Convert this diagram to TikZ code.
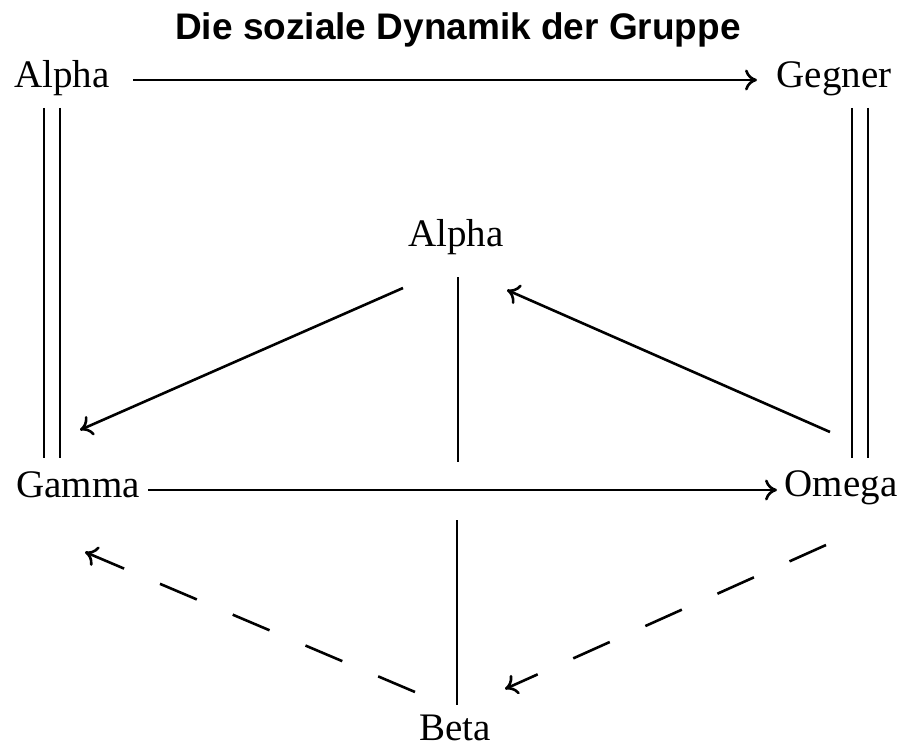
\documentclass[tikz,border=0pt]{standalone}
\usepackage{fontspec}
\setmainfont{Liberation Serif}
\newfontfamily\titlefont{Liberation Sans}
\usetikzlibrary{arrows.meta}
\begin{document}
\begin{tikzpicture}[x=1pt,y=-1pt,
  lbl/.style={font=\fontsize{39}{41}\selectfont, inner sep=0pt, anchor=base},
  ttl/.style={font=\titlefont\bfseries\fontsize{37}{40}\selectfont, inner sep=0pt, anchor=base},
  conn/.style={line width=2.6pt, -{To[length=12pt,width=21pt]}},
  dconn/.style={conn, dash pattern=on 40pt off 39pt},
  plain/.style={line width=2.6pt}]
\path[use as bounding box, fill=white] (0,0) rectangle (905,749);
\node[ttl] (title) at (458,40) {Die soziale Dynamik der Gruppe};
\node[lbl] (alphaA) at (62,88) {Alpha};
\node[lbl] (gegner) at (834,88) {Gegner};
\node[lbl] (alphaB) at (456,246) {Alpha};
\node[lbl] (gamma) at (78,497) {Gamma};
\node[lbl] (omega) at (841,496) {Omega};
\node[lbl] (beta) at (455,740) {Beta};
% free ends
\coordinate (aAr) at (133,80);
\coordinate (gGl) at (757,80);
\coordinate (gmR) at (148,490);
\coordinate (omL) at (777,490);
\coordinate (l1t) at (44,108); \coordinate (l1b) at (44,458);
\coordinate (l2t) at (60,108); \coordinate (l2b) at (60,458);
\coordinate (r1t) at (852,108); \coordinate (r1b) at (852,458);
\coordinate (r2t) at (868,108); \coordinate (r2b) at (868,458);
\coordinate (vut) at (458,277); \coordinate (vub) at (458,462);
\coordinate (vlt) at (457,520); \coordinate (vlb) at (457,705);
\coordinate (dA1) at (403,288); \coordinate (dA2) at (80,430);
\coordinate (dB1) at (830,432); \coordinate (dB2) at (507,290);
\coordinate (dC1) at (415,692); \coordinate (dC2) at (85,552);
\coordinate (dD1) at (826,545); \coordinate (dD2) at (505,689);
% connectors
\draw[conn] (aAr) -- (gGl);
\draw[conn] (gmR) -- (omL);
\draw[plain] (l1t) -- (l1b);
\draw[plain] (l2t) -- (l2b);
\draw[plain] (r1t) -- (r1b);
\draw[plain] (r2t) -- (r2b);
\draw[plain] (vut) -- (vub);
\draw[plain] (vlt) -- (vlb);
\draw[conn] (dA1) -- (dA2);
\draw[conn] (dB1) -- (dB2);
\draw[dconn] (dC1) -- (dC2);
\draw[dconn] (dD1) -- (dD2);
\end{tikzpicture}
\end{document}
